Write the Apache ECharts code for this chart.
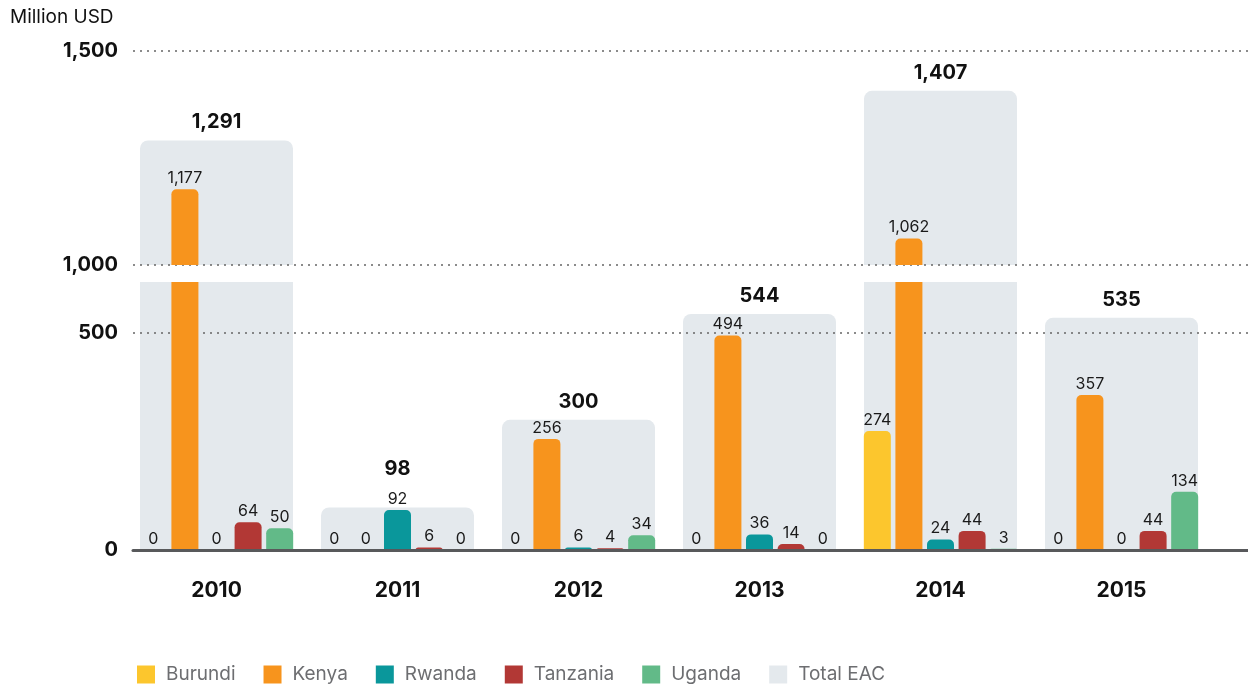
<!DOCTYPE html>
<html>
<head>
    <meta charset="utf-8">
    <title>EAC exports chart</title>
    <script src="https://cdn.jsdelivr.net/npm/echarts@6/dist/echarts.min.js"></script>
    <style>
        html, body { margin: 0; padding: 0; background: #fff; }
        #main { width: 1248px; height: 686px; }
    </style>
</head>
<body>
    <div id="main"></div>
    <script>
        // data
        var years = ['2010', '2011', '2012', '2013', '2014', '2015'];
        var burundi = [0, 0, 0, 0, 274, 0];
        var kenya = [1177, 0, 256, 494, 1062, 357];
        var rwanda = [0, 92, 6, 36, 24, 0];
        var tanzania = [64, 6, 4, 14, 44, 44];
        var uganda = [50, 0, 34, 0, 3, 134];
        var totalEAC = [1291, 98, 300, 544, 1407, 535];
        var lowerTicks = [0, 500];
        var upperTicks = [1000, 1500];

        var countries = [
            { name: 'Burundi', data: burundi, color: '#fcc62d' },
            { name: 'Kenya', data: kenya, color: '#f7941d' },
            { name: 'Rwanda', data: rwanda, color: '#0a979b' },
            { name: 'Tanzania', data: tanzania, color: '#b23835' },
            { name: 'Uganda', data: uganda, color: '#62ba88' }
        ];
        var totalColor = '#e4e9ed';

        var font = "Inter, 'Open Sans', sans-serif";
        var lowerMax = 617.5;          // lower panel runs up to the break
        var lowerScale = 268 / lowerMax; // px per unit in lower panel
        var fmt = function (v) { return Number(v).toLocaleString('en-US'); };

        // push a total label up when a country label sits right under it
        var totalLabelDistance = totalEAC.map(function (t, i) {
            var m = Math.max(burundi[i], kenya[i], rwanda[i], tanzania[i], uganda[i]);
            return t <= lowerMax && (t - m) * lowerScale < 10 ? 28 : 8;
        });

        var myChart = echarts.init(document.getElementById('main'));

        // broken axis: lower panel 0..617.5, upper panel 1000..1500
        var panels = [
            { yIndex: 0, xc: 0, xt: 1, show: function (v) { return v <= lowerMax; } },
            { yIndex: 1, xc: 2, xt: 3, show: function (v) { return v >= 1000; } }
        ];

        var series = [];
        panels.forEach(function (p, pi) {
            series.push({
                name: 'Total EAC',
                type: 'bar',
                xAxisIndex: p.xt,
                yAxisIndex: p.yIndex,
                barWidth: 153,
                z: 0,
                color: totalColor,
                itemStyle: { color: totalColor, borderRadius: [8, 8, 0, 0] },
                data: totalEAC.map(function (v, i) {
                    var item = { value: v, label: { distance: totalLabelDistance[i] } };
                    if (pi === 0 && v > lowerMax) item.itemStyle = { borderRadius: 0 };
                    return item;
                }),
                label: {
                    show: true,
                    position: 'top',
                    distance: 8,
                    fontFamily: font,
                    fontSize: 20,
                    fontWeight: 'bold',
                    color: '#111',
                    formatter: function (d) { return p.show(d.value) ? fmt(d.value) : ''; }
                }
            });
            countries.forEach(function (c) {
                series.push({
                    name: c.name,
                    type: 'bar',
                    xAxisIndex: p.xc,
                    yAxisIndex: p.yIndex,
                    barWidth: 27,
                    barGap: '17%',
                    z: 3,
                    color: c.color,
                    itemStyle: { color: c.color, borderRadius: [5, 5, 0, 0] },
                    data: c.data.map(function (v) {
                        return pi === 0 && v > lowerMax ? { value: v, itemStyle: { borderRadius: 0 } } : v;
                    }),
                    label: {
                        show: true,
                        position: 'top',
                        distance: 3,
                        fontFamily: font,
                        fontSize: 16,
                        color: '#1a1a1a',
                        formatter: function (d) { return p.show(d.value) ? fmt(d.value) : ''; }
                    }
                });
            });
        });

        var hiddenCat = function (gridIndex, showLabel) {
            return {
                type: 'category',
                gridIndex: gridIndex,
                data: years,
                axisLine: { show: false },
                axisTick: { show: false },
                splitLine: { show: false },
                axisLabel: {
                    show: showLabel,
                    margin: 30,
                    fontFamily: font,
                    fontSize: 21,
                    fontWeight: 'bold',
                    color: '#111'
                }
            };
        };

        var option = {
            animation: false,
            title: {
                text: 'Million USD',
                left: 10,
                top: 8,
                padding: 0,
                textStyle: { fontFamily: font, fontSize: 19, fontWeight: 'normal', color: '#111' }
            },
            legend: {
                left: 137,
                top: 665,
                padding: 0,
                icon: 'rect',
                itemWidth: 18,
                itemHeight: 18,
                itemGap: 28,
                textStyle: { fontFamily: font, fontSize: 19, color: '#6d6e71', padding: [0, 0, 0, 6] },
                data: ['Burundi', 'Kenya', 'Rwanda', 'Tanzania', 'Uganda', 'Total EAC']
            },
            grid: [
                { left: 126, right: 36, top: 282, height: 268 },   // lower bars
                { left: 126, right: 36, top: 51, height: 214 },    // upper bars
                { left: 133, right: 0, top: 333, height: 217 },    // lower ticks / baseline
                { left: 133, right: 0, top: 51, height: 214 }      // upper ticks
            ],
            xAxis: [
                hiddenCat(0, true),
                hiddenCat(0, false),
                hiddenCat(1, false),
                hiddenCat(1, false),
                {
                    type: 'value', gridIndex: 2, min: 0, max: 1, z: 4,
                    axisLine: { show: true, lineStyle: { color: '#58595b', width: 3 } },
                    axisTick: { show: false }, axisLabel: { show: false }, splitLine: { show: false }
                },
                {
                    type: 'value', gridIndex: 3, min: 0, max: 1,
                    axisLine: { show: false }, axisTick: { show: false },
                    axisLabel: { show: false }, splitLine: { show: false }
                }
            ],
            yAxis: [
                { type: 'value', gridIndex: 0, min: 0, max: lowerMax, show: false },
                { type: 'value', gridIndex: 1, min: upperTicks[0], max: upperTicks[1], show: false },
                {
                    type: 'value', gridIndex: 2, z: 1,
                    min: lowerTicks[0], max: lowerTicks[1], interval: lowerTicks[1] - lowerTicks[0],
                    axisLine: { show: false }, axisTick: { show: false },
                    axisLabel: { margin: 15, fontFamily: font, fontSize: 20, fontWeight: 'bold', color: '#111', formatter: fmt },
                    splitLine: { show: true, lineStyle: { color: '#666', type: [2, 5], width: 1.5 } }
                },
                {
                    type: 'value', gridIndex: 3, z: 1,
                    min: upperTicks[0], max: upperTicks[1], interval: upperTicks[1] - upperTicks[0],
                    axisLine: { show: false }, axisTick: { show: false },
                    axisLabel: { margin: 15, fontFamily: font, fontSize: 20, fontWeight: 'bold', color: '#111', formatter: fmt },
                    splitLine: { show: true, lineStyle: { color: '#666', type: [2, 5], width: 1.5 } }
                }
            ],
            series: series
        };

        myChart.setOption(option);
    </script>
</body>
</html>
